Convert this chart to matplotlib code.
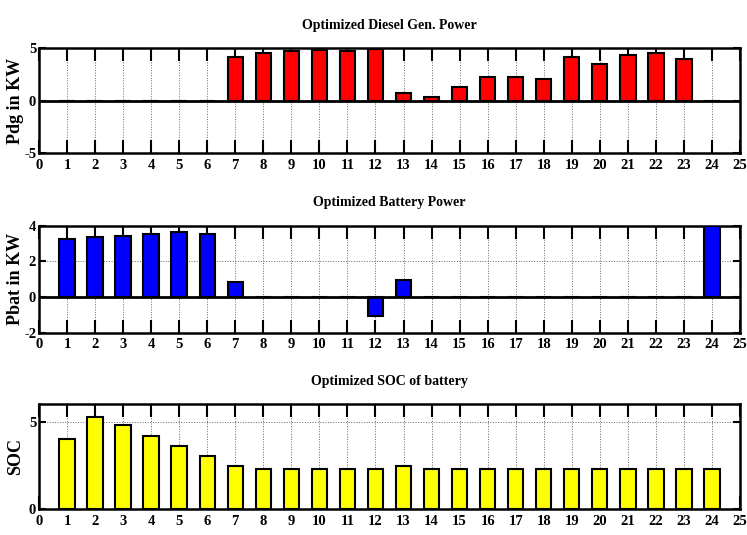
import matplotlib.pyplot as plt
import numpy as np

# hours 1..24
hours = np.arange(1, 25)

# Optimized diesel generator power (kW)
pdg = [0, 0, 0, 0, 0, 0, 4.2, 4.5, 4.75, 4.8, 4.75, 4.95,
       0.75, 0.3, 1.25, 2.25, 2.25, 2.1, 4.2, 3.5, 4.35, 4.5, 4.0, 0]
# Optimized battery power (kW)
pbat = [3.26, 3.36, 3.43, 3.56, 3.64, 3.56, 0.85, 0, 0, 0, 0, -1.05,
        0.98, 0, 0, 0, 0, 0, 0, 0, 0, 0, 0, 4.0]
# Optimized SOC of battery
soc = [4.0, 5.3, 4.8, 4.2, 3.6, 3.03, 2.44, 2.3, 2.3, 2.3, 2.3, 2.3,
       2.45, 2.32, 2.32, 2.32, 2.32, 2.32, 2.32, 2.32, 2.32, 2.32, 2.32, 2.32]

titles = ['Optimized Diesel Gen. Power', 'Optimized Battery Power', 'Optimized SOC of battery']
ylabels = ['Pdg in KW', 'Pbat in KW', 'SOC']
colors = ['#ff0000', '#0000ff', '#ffff00']
ylims = [(-5, 5), (-2, 4), (0, 6)]
yticks = [[-5, 0, 5], [-2, 0, 2, 4], [0, 5]]
series = [pdg, pbat, soc]

plt.rcParams['font.family'] = ['Liberation Serif', 'DejaVu Serif']
plt.rcParams['font.weight'] = 'bold'
plt.rcParams['axes.unicode_minus'] = False

fig = plt.figure(figsize=(7.47, 5.35), dpi=100)

# [left, bottom, width, height] in figure fraction
boxes = [[0.0522, 0.714, 0.9384, 0.196],
         [0.0522, 0.378, 0.9384, 0.200],
         [0.0522, 0.0486, 0.9384, 0.1957]]

for i in range(3):
    ax = fig.add_axes(boxes[i])
    vals = series[i]
    ax.bar(hours, vals, width=0.55, color=colors[i], edgecolor='black',
           linewidth=1.5, zorder=3)
    if i < 2:
        ax.axhline(0, color='black', linewidth=2, zorder=4)
    ax.set_xlim(0, 25)
    ax.set_ylim(*ylims[i])
    ax.set_xticks(range(0, 26))
    ax.set_yticks(yticks[i])
    ax.grid(True, linestyle=':', color='#666666', linewidth=0.7, zorder=0)
    ax.tick_params(axis='x', direction='in', length=9.5, width=1.5,
                   top=True, labelsize=10.5, pad=4)
    ax.tick_params(axis='y', direction='in', length=5, width=1.5,
                   right=True, labelsize=10.5, pad=2)
    for s in ax.spines.values():
        s.set_linewidth(1.8)
    ax.set_title(titles[i], fontsize=10, fontweight='bold', pad=14)
    ax.set_ylabel(ylabels[i], fontsize=13, fontweight='bold')
    ax.yaxis.set_label_coords(-0.021, 0.5)

fig.savefig('out.png', dpi=100)
